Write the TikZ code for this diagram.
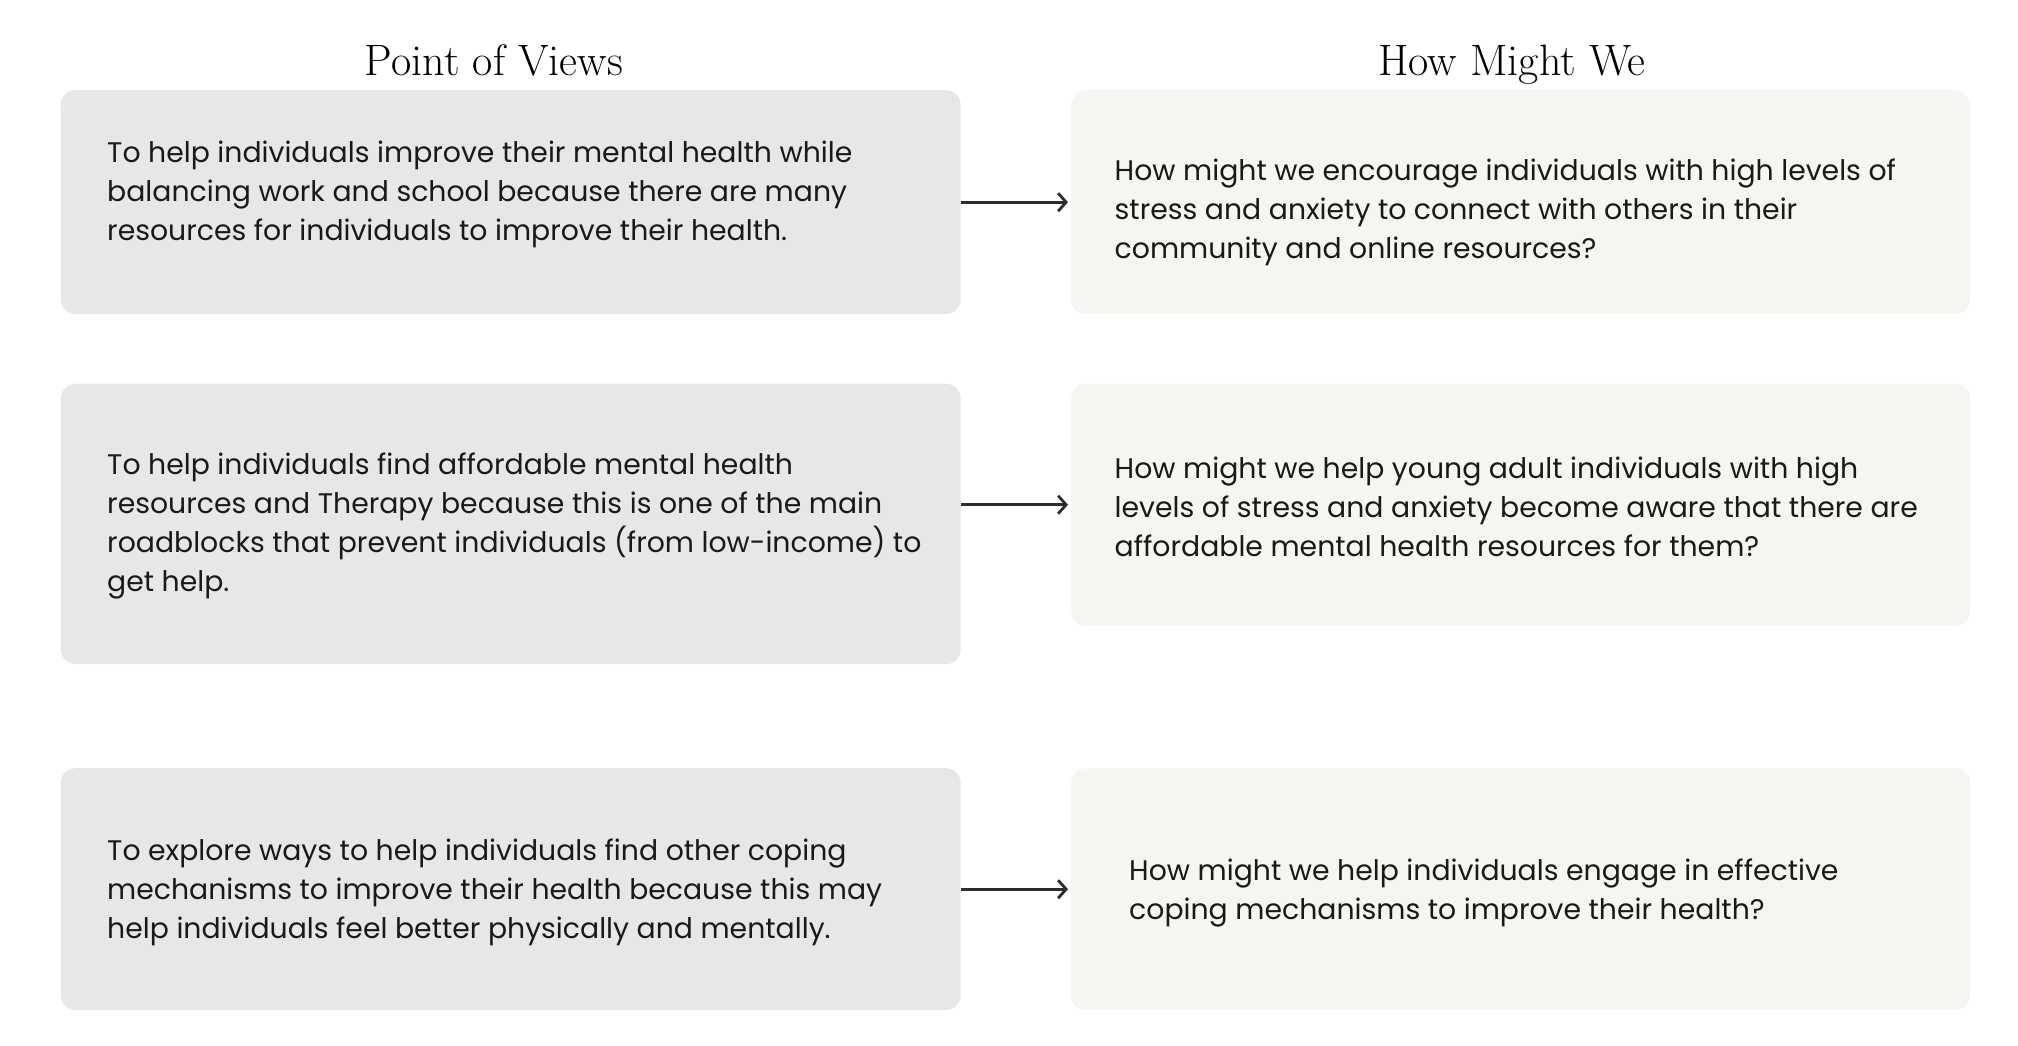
\documentclass[tikz,border=0pt]{standalone}
\usepackage{fontspec}
\newfontfamily\bodyfont{Poppins}
\usetikzlibrary{arrows.meta}
\definecolor{povfill}{RGB}{229,232,229}
\definecolor{hmwfill}{RGB}{246,245,241}
\definecolor{arrowc}{RGB}{45,45,45}
\begin{document}
\begin{tikzpicture}[x=1pt,y=-1pt,
  box/.style={rounded corners=15pt, inner sep=0pt, anchor=north west},
  pov/.style={box, fill=povfill},
  hmw/.style={box, fill=hmwfill},
  txt/.style={anchor=west, align=left, inner sep=0pt, font=\bodyfont\fontsize{28.3}{39}\selectfont, text=black!90},
  ttl/.style={font=\fontsize{44}{50}\selectfont, inner sep=0pt, anchor=base},
  conn/.style={draw=arrowc, line width=2.8pt, -{Straight Barb[length=8pt,width=18pt,line width=2.8pt]}, shorten >=3pt}
]
\useasboundingbox (0,0) rectangle (2018,1046);
\node[ttl] (t1) at (494,76) {Point of Views};
\node[ttl] (t2) at (1512,76) {How Might We};

\node[pov, minimum width=900pt, minimum height=224pt] (l1) at (60.5,90) {};
\node[pov, minimum width=900pt, minimum height=280.5pt] (l2) at (60.5,383.5) {};
\node[pov, minimum width=900pt, minimum height=242pt] (l3) at (60.5,768) {};
\node[hmw, minimum width=899pt, minimum height=224pt] (r1) at (1071,90) {};
\node[hmw, minimum width=899pt, minimum height=242pt] (r2) at (1071,383.5) {};
\node[hmw, minimum width=899pt, minimum height=242pt] (r3) at (1071,768) {};

\node[txt] (lt1) at (107,194.5) {To help individuals improve their mental health while\\balancing work and school because there are many\\resources for individuals to improve their health.};
\node[txt] (lt2) at (107,526.5) {To help individuals find affordable mental health\\resources and Therapy because this is one of the main\\roadblocks that prevent individuals (from low-income) to\\get help.};
\node[txt] (lt3) at (107,892) {To explore ways to help individuals find other coping\\mechanisms to improve their health because this may\\help individuals feel better physically and mentally.};
\node[txt] (rt1) at (1114.5,212.5) {How might we encourage individuals with high levels of\\stress and anxiety to connect with others in their\\community and online resources?};
\node[txt] (rt2) at (1114.5,507) {How might we help young adult individuals with high\\levels of stress and anxiety become aware that there are\\affordable mental health resources for them?};
\node[txt] (rt3) at (1129,893) {How might we help individuals engage in effective\\coping mechanisms to improve their health?};

\draw[conn] (l1.east |- r1.west) -- (r1.west);
\draw[conn] (l2.east |- r2.west) -- (r2.west);
\draw[conn] (l3.east |- r3.west) -- (r3.west);
\end{tikzpicture}
\end{document}
